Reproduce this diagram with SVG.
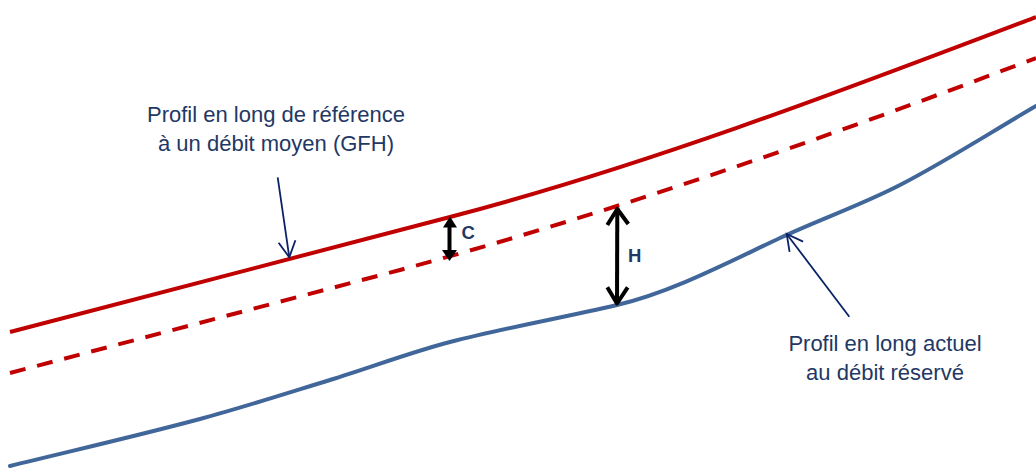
<svg xmlns="http://www.w3.org/2000/svg" width="1036" height="468" viewBox="0 0 1036 468">
  <style>
    .red { fill: none; stroke: #C00000; stroke-width: 4; }
    .dash { stroke-dasharray: 16 12; }
    .blue { fill: none; stroke: #41679A; stroke-width: 4; stroke-linecap: round; }
    .lbl { font-family: "Liberation Sans", Arial, sans-serif; font-size: 22px; fill: #1F3864; text-anchor: middle; }
    .dim { font-family: "Liberation Sans", Arial, sans-serif; font-size: 18.5px; font-weight: bold; fill: #1F3864; }
    .ptr { fill: none; stroke: #0A2366; stroke-width: 1.8; }
    .blk { fill: none; stroke: #000; stroke-width: 4; }
  </style>
  <defs>
    <marker id="open" markerUnits="userSpaceOnUse" viewBox="0 0 20 20" refX="17" refY="10" markerWidth="20" markerHeight="20" orient="auto">
      <path d="M1,1.5 L17,10 L1,18.5" fill="none" stroke="#0A2366" stroke-width="1.8"/>
    </marker>
  </defs>
  <rect width="1036" height="468" fill="#fff"/>

  <g id="profil-reference">
    <path class="red" d="M10,332 L450,217 C645,166.1 841,91.1 1036,17"/>
  </g>
  <g id="profil-reference-tirets">
    <path class="red dash" d="M10,373 L400,270 C612,212.8 824,138.6 1036,58"/>
  </g>
  <g id="profil-actuel">
    <path class="blue" d="M10,466 C73.3,450.4 136.7,436 200,419 C243.3,407.3 286.7,393.3 330,380 C370,367.7 410,352.4 450,342 C505.7,327.5 561.3,318.1 617,305 C671.3,292.2 725.7,263.5 780,238 C820,219.2 860,205.6 900,185 C945.3,161.6 990.7,132.3 1036,106"/>
  </g>

  <g id="cote-C">
    <line class="blk" x1="449.5" y1="225" x2="449.5" y2="253" stroke-width="3.5"/>
    <polygon points="450,216.5 443,227.5 457,227.5" fill="#000"/>
    <polygon points="449.5,261 442,250 457,250" fill="#000"/>
    <text class="dim" x="461.5" y="239">C</text>
  </g>
  <g id="cote-H">
    <line class="blk" x1="617.3" y1="208" x2="617" y2="304"/>
    <path class="blk" d="M607.3,225 L617.3,209 L628.3,224" stroke-linejoin="round"/>
    <path class="blk" d="M607.3,287.3 L617,303.5 L627.7,287.3" stroke-linejoin="round"/>
    <text class="dim" x="628" y="262">H</text>
  </g>

  <g id="label-reference">
    <text class="lbl" x="276" y="122">Profil en long de référence</text>
    <text class="lbl" x="276" y="151">à un débit moyen (GFH)</text>
  </g>
  <g id="label-actuel">
    <text class="lbl" x="885" y="351">Profil en long actuel</text>
    <text class="lbl" x="885" y="380">au débit réservé</text>
  </g>

  <g id="connecteurs">
    <line class="ptr" x1="277.7" y1="177.3" x2="289.3" y2="257.3" marker-end="url(#open)"/>
    <line class="ptr" x1="849.3" y1="316.7" x2="786.7" y2="234" marker-end="url(#open)"/>
  </g>
</svg>
